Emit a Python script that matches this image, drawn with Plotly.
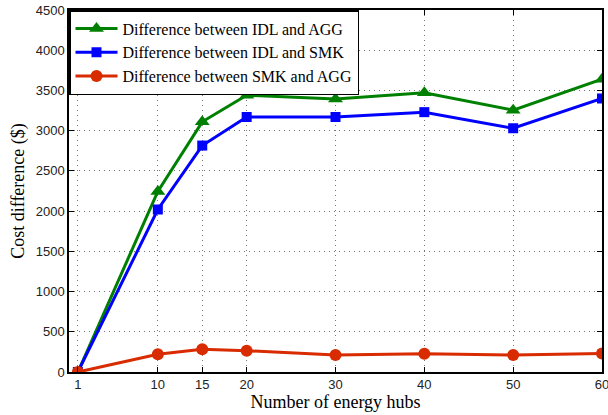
import plotly.graph_objects as go

hubs = [1, 10, 15, 20, 30, 40, 50, 60]
idl_agg = [0, 2245, 3110, 3440, 3395, 3470, 3255, 3640]
idl_smk = [0, 2020, 2815, 3170, 3170, 3230, 3030, 3400]
smk_agg = [0, 220, 282, 265, 211, 228, 211, 230]

x_ticks = [1, 10, 15, 20, 30, 40, 50, 60]
y_ticks = [0, 500, 1000, 1500, 2000, 2500, 3000, 3500, 4000, 4500]

fig = go.Figure()
fig.add_trace(go.Scatter(x=hubs, y=idl_agg, mode="lines+markers",
                         name="Difference between IDL and AGG",
                         line=dict(color="#008000", width=3),
                         marker=dict(symbol="triangle-up", size=13, color="#008000")))
fig.add_trace(go.Scatter(x=hubs, y=idl_smk, mode="lines+markers",
                         name="Difference between IDL and SMK",
                         line=dict(color="#0000FF", width=3),
                         marker=dict(symbol="square", size=10, color="#0000FF")))
fig.add_trace(go.Scatter(x=hubs, y=smk_agg, mode="lines+markers",
                         name="Difference between SMK and AGG",
                         line=dict(color="#D92B00", width=3),
                         marker=dict(symbol="circle", size=12, color="#D92B00")))

axis_common = dict(showline=True, linecolor="black", linewidth=1.5, mirror="allticks",
                   ticks="inside", ticklen=5, tickcolor="black",
                   showgrid=True, gridcolor="#777777", griddash="1px,4px", gridwidth=1,
                   zeroline=False, automargin=False, ticklabeloverflow="allow",
                   tickfont=dict(family="Liberation Sans, Arial", size=13, color="#222222"))

fig.update_xaxes(range=[0, 60], tickvals=x_ticks, ticktext=[str(v) for v in x_ticks],
                 title=dict(text="Number of energy hubs", standoff=0,
                            font=dict(family="Liberation Serif, Times New Roman", size=18, color="black")),
                 **axis_common)
fig.update_yaxes(range=[0, 4500], tickvals=y_ticks,
                 title=dict(text="Cost difference ($)", standoff=6,
                            font=dict(family="Liberation Serif, Times New Roman", size=18, color="black")),
                 **axis_common)

fig.update_layout(width=608, height=415,
                  margin=dict(l=69, r=6, t=10, b=43),
                  plot_bgcolor="white", paper_bgcolor="white",
                  showlegend=True,
                  legend=dict(x=0, y=1, xanchor="left", yanchor="top",
                              bgcolor="white", bordercolor="black", borderwidth=1.5,
                              font=dict(family="Liberation Serif, Times New Roman", size=16, color="black"),
                              tracegroupgap=0, itemwidth=42))

fig.write_html("out.html", config={"displayModeBar": False},
               post_script="document.body.style.margin='0';document.body.style.overflow='hidden';")
